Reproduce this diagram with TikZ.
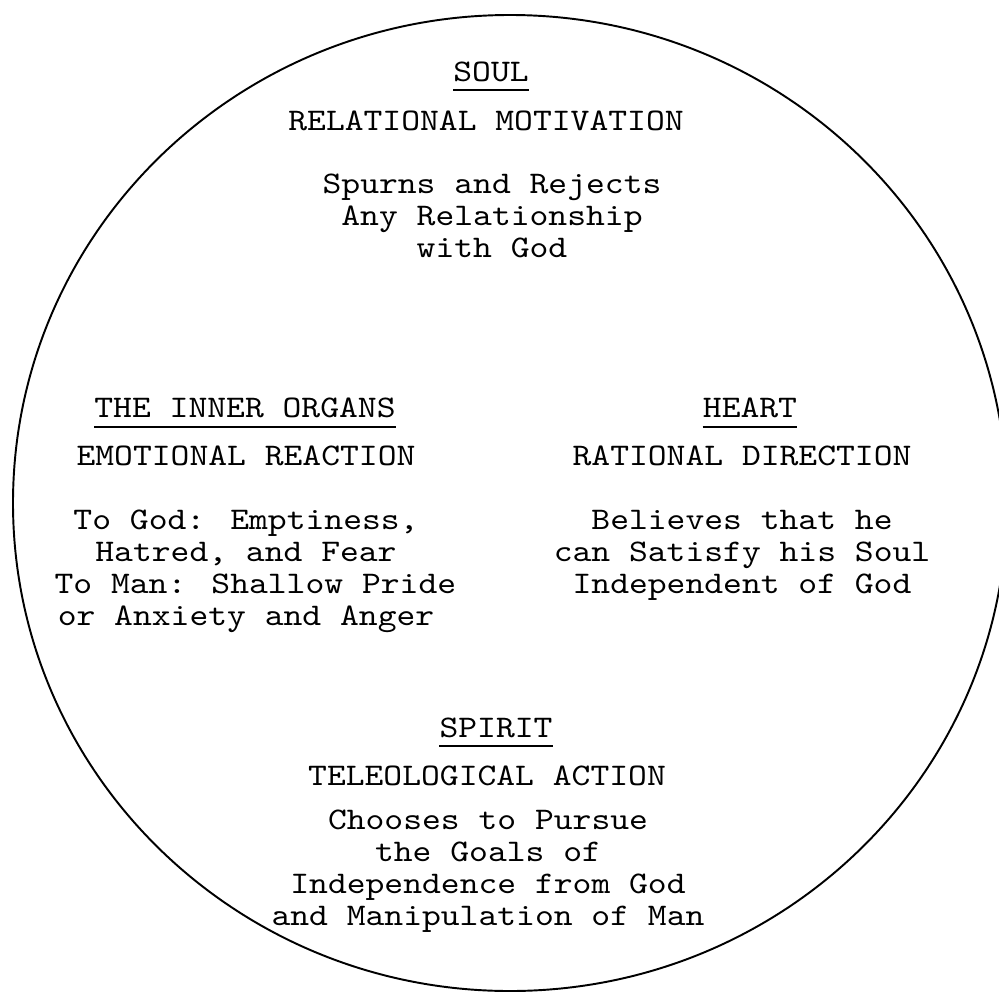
\documentclass[tikz,border=0pt]{standalone}
\usepackage{fontspec}
\newfontfamily\typewriter[FakeStretch=1.14]{lmmono10-regular.otf}
\usetikzlibrary{calc}

\newcommand{\typed}{\typewriter\fontsize{17.9}{18.1}\selectfont}

\tikzset{
  txt/.style={font=\typed, align=center, inner sep=0pt, anchor=base},
  uline/.style={black, line width=1.1pt}
}

\begin{document}
\begin{tikzpicture}[x=0.02cm,y=-0.02cm]
        \useasboundingbox (0,0) rectangle (999,993);
        \draw[line width=1.1pt] (510,503) ellipse [x radius=497, y radius=488];

        % soul (base of a block = its last line)
        \node[txt] (soul) at (491,82) {SOUL};
        \draw[uline] ([yshift=-0.16cm]soul.base west) -- ([yshift=-0.16cm]soul.base east);
        \node[txt] (soulhead) at (486,131) {RELATIONAL MOTIVATION};
        \node[txt] (soultext) at (492,257) {Spurns and Rejects\\Any Relationship\\with God};

        % inner organs
        \node[txt] (organs) at (245,417) {THE INNER ORGANS};
        \draw[uline] ([yshift=-0.2cm]organs.base west) -- ([yshift=-0.2cm]organs.base east);
        \node[txt] (organshead) at (246,465) {EMOTIONAL REACTION};
        \node[txt] (organstext) at (246,625) {To God: Emptiness,\\Hatred, and Fear\\~To Man: Shallow Pride\\or Anxiety and Anger};

        % heart
        \node[txt] (heart) at (750,417) {HEART};
        \draw[uline] ([yshift=-0.2cm]heart.base west) -- ([yshift=-0.2cm]heart.base east);
        \node[txt] (hearthead) at (742,465) {RATIONAL DIRECTION};
        \node[txt] (hearttext) at (742,593) {Believes that he\\can Satisfy his Soul\\Independent of God};

        % spirit
        \node[txt] (spirit) at (496,737) {SPIRIT};
        \draw[uline] ([yshift=-0.18cm]spirit.base west) -- ([yshift=-0.18cm]spirit.base east);
        \node[txt] (spirithead) at (487,785) {TELEOLOGICAL ACTION};
        \node[txt] (spirittext) at (488,925) {Chooses to Pursue\\the Goals of\\Independence from God\\and Manipulation of Man};
\end{tikzpicture}
\end{document}
